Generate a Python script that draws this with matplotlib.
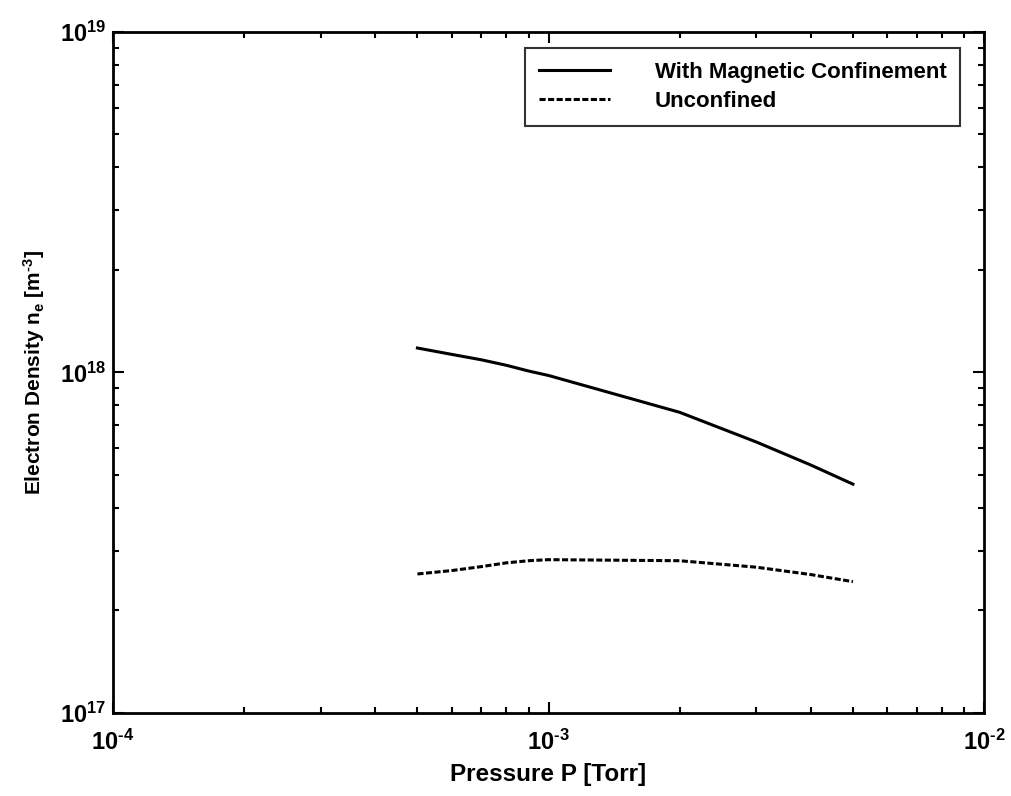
import math
import matplotlib
matplotlib.use("Agg")
import matplotlib.pyplot as plt
from matplotlib.ticker import LogLocator, FuncFormatter, NullFormatter

plt.rcParams['font.family'] = ['Liberation Sans', 'DejaVu Sans']
plt.rcParams['font.weight'] = 'bold'
plt.rcParams['axes.labelweight'] = 'bold'
plt.rcParams['mathtext.fontset'] = 'custom'
plt.rcParams['mathtext.rm'] = 'Liberation Sans:bold'
plt.rcParams['mathtext.it'] = 'Liberation Sans:bold:italic'
plt.rcParams['mathtext.bf'] = 'Liberation Sans:bold'
plt.rcParams['mathtext.default'] = 'regular'
plt.rcParams['axes.unicode_minus'] = False

# Pressure [Torr]
pressure = [5e-4, 6e-4, 7e-4, 8e-4, 9e-4, 1e-3, 2e-3, 3e-3, 4e-3, 5e-3]
# Electron density [m^-3]
ne_confined = [1.18e18, 1.13e18, 1.09e18, 1.05e18, 1.01e18, 9.8e17,
               7.64e17, 6.25e17, 5.35e17, 4.7e17]
ne_unconfined = [2.56e17, 2.62e17, 2.69e17, 2.76e17, 2.8e17, 2.82e17,
                 2.8e17, 2.68e17, 2.55e17, 2.43e17]

series_labels = ['With Magnetic Confinement', 'Unconfined']

fig = plt.figure(figsize=(10.11, 7.96), dpi=100)
ax = fig.add_axes([0.1118, 0.1043, 0.8615, 0.8555])

ax.plot(pressure, ne_confined, color='black', lw=2.2, label=series_labels[0])
ax.plot(pressure, ne_unconfined, color='black', lw=2.2, dashes=(2.0, 0.8),
        label=series_labels[1])

ax.set_xscale('log')
ax.set_yscale('log')
ax.set_xlim(1e-4, 1e-2)
ax.set_ylim(1e17, 1e19)


def decade_label(v, pos):
    # plain hyphen for the exponent sign
    return r'$10^{\text{%d}}$' % round(math.log10(v))


fmt = FuncFormatter(decade_label)
ax.xaxis.set_major_locator(LogLocator(base=10))
ax.yaxis.set_major_locator(LogLocator(base=10))
ax.xaxis.set_minor_locator(LogLocator(base=10, subs=range(2, 10)))
ax.yaxis.set_minor_locator(LogLocator(base=10, subs=range(2, 10)))
ax.xaxis.set_major_formatter(fmt)
ax.yaxis.set_major_formatter(fmt)
ax.xaxis.set_minor_formatter(NullFormatter())
ax.yaxis.set_minor_formatter(NullFormatter())

ax.tick_params(which='both', direction='in', top=True, right=True,
               width=1.5, labelsize=17)
ax.tick_params(which='major', length=8)
ax.tick_params(which='minor', length=4)
ax.tick_params(axis='x', which='major', pad=12)
ax.tick_params(axis='y', which='major', pad=5)

for s in ax.spines.values():
    s.set_linewidth(2.0)

ax.set_xlabel('Pressure P [Torr]', fontsize=17.5, fontweight='bold', labelpad=6)
ax.set_ylabel(r'Electron Density n$_{e}$ [m$^{\text{-3}}$]', fontsize=15,
              fontweight='bold', labelpad=9)

leg = ax.legend(loc='upper right', bbox_to_anchor=(0.9725, 0.9765),
                prop={'size': 16, 'weight': 'bold'}, frameon=True,
                fancybox=False, edgecolor='black',
                handlelength=3.2, handletextpad=2.0, borderpad=0.62,
                labelspacing=0.36, borderaxespad=0)
leg.get_frame().set_linewidth(1.5)

fig.savefig('out.png', dpi=100)
